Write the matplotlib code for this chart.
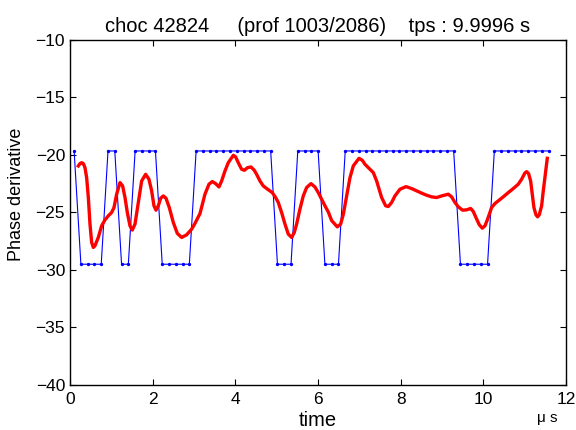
import numpy as np
import matplotlib.pyplot as plt

plt.rcParams['font.family'] = ['Liberation Sans', 'DejaVu Sans']

# blue step signal (sampled every ~0.164 us starting at 0.1 us)
t0 = 0.1
dt = 0.164
hi = -19.65
lo = -29.5
levels = [hi,
          lo, lo, lo, lo,
          hi, hi,
          lo, lo,
          hi, hi, hi, hi,
          lo, lo, lo, lo, lo,
          hi, hi, hi, hi, hi, hi, hi, hi, hi, hi, hi, hi,
          lo, lo, lo,
          hi, hi, hi, hi,
          lo, lo, lo,
          hi, hi, hi, hi, hi, hi, hi, hi, hi, hi, hi, hi, hi, hi, hi, hi, hi,
          lo, lo, lo, lo, lo,
          hi, hi, hi, hi, hi, hi, hi, hi, hi]
t_blue = t0 + dt * np.arange(len(levels))

# red phase derivative curve
t_red = [0.202, 0.242, 0.282, 0.323, 0.363, 0.403, 0.444, 0.484, 0.524, 0.565,
         0.605, 0.685, 0.766, 0.847, 0.927, 1.008, 1.065, 1.129, 1.210, 1.274,
         1.331, 1.387, 1.452, 1.508, 1.573, 1.653, 1.734, 1.831, 1.911, 1.976,
         2.032, 2.081, 2.137, 2.194, 2.258, 2.323, 2.403, 2.500, 2.597, 2.702,
         2.823, 2.944, 3.024, 3.145, 3.266, 3.363, 3.443, 3.524, 3.605, 3.669,
         3.750, 3.830, 3.952, 4.008, 4.072, 4.153, 4.218, 4.298, 4.379, 4.460,
         4.516, 4.597, 4.677, 4.782, 4.895, 4.976, 5.040, 5.121, 5.202, 5.282,
         5.363, 5.427, 5.484, 5.564, 5.645, 5.726, 5.831, 5.927, 6.008, 6.089,
         6.169, 6.250, 6.331, 6.468, 6.549, 6.614, 6.694, 6.775, 6.855, 6.993,
         7.073, 7.138, 7.259, 7.339, 7.420, 7.541, 7.638, 7.702, 7.783, 7.863,
         7.984, 8.130, 8.267, 8.388, 8.509, 8.630, 8.751, 8.872, 8.993, 9.154,
         9.234, 9.315, 9.396, 9.500, 9.597, 9.694, 9.758, 9.823, 9.904, 9.976,
         10.041, 10.105, 10.202, 10.283, 10.363, 10.484, 10.605, 10.726, 10.847,
         10.928, 11.008, 11.049, 11.097, 11.146, 11.186, 11.226, 11.275, 11.315,
         11.355, 11.412, 11.452, 11.492, 11.549]
v_red = [-20.95, -20.75, -20.67, -20.75, -21.10, -21.97, -23.70, -26.01, -27.60,
         -28.04, -27.89, -27.17, -26.16, -25.64, -25.29, -25.00, -24.57, -23.41,
         -22.40, -22.69, -23.70, -25.00, -26.16, -26.53, -26.01, -24.13, -22.26,
         -21.68, -22.11, -23.12, -24.42, -24.80, -24.42, -23.76, -23.56, -23.76,
         -24.57, -25.87, -26.82, -27.17, -26.94, -26.45, -25.95, -25.10, -23.41,
         -22.54, -22.31, -22.49, -22.78, -22.26, -21.39, -20.67, -20.03, -20.17,
         -20.67, -21.24, -21.33, -21.10, -21.04, -21.33, -21.68, -22.26, -22.69,
         -22.98, -23.27, -23.70, -24.13, -25.00, -26.01, -26.88, -27.17, -26.74,
         -26.01, -24.71, -23.56, -22.83, -22.49, -22.78, -23.27, -23.85, -24.42,
         -24.95, -25.70, -26.25, -26.01, -25.15, -23.56, -21.97, -20.95, -20.29,
         -20.46, -20.81, -21.24, -21.53, -22.26, -23.70, -24.42, -24.48, -24.13,
         -23.56, -22.98, -22.75, -22.92, -23.12, -23.32, -23.50, -23.64, -23.70,
         -23.56, -23.41, -23.64, -24.13, -24.51, -24.80, -24.77, -24.65, -24.91,
         -25.44, -26.07, -26.36, -26.16, -25.58, -24.57, -24.22, -23.99, -23.64,
         -23.27, -22.92, -22.54, -22.11, -21.56, -21.45, -21.62, -22.26, -23.41,
         -24.57, -25.20, -25.38, -25.20, -24.42, -23.12, -21.97, -20.29]

fig = plt.figure(figsize=(5.76, 4.30), dpi=100)
ax = fig.add_axes([0.1215, 0.1047, 0.861, 0.8023])

ax.plot(t_blue, levels, color='blue', lw=0.8, marker='.', ms=2.8)
ax.plot(t_red, v_red, color='red', lw=2.4, solid_joinstyle='round')

ax.set_xlim(0, 12)
ax.set_ylim(-40, -10)
ax.set_xticks([0, 2, 4, 6, 8, 10, 12])
ax.set_yticks([-40, -35, -30, -25, -20, -15, -10])
ax.tick_params(direction='in', top=True, right=True, labelsize=12.5, length=4)
ax.tick_params(axis='x', pad=5)
for s in ax.spines.values():
    s.set_linewidth(1.0)

ax.set_title('choc 42824     (prof 1003/2086)    tps : 9.9996 s',
             fontsize=14.5, pad=6)
ax.set_xlabel('time', fontsize=14.5, labelpad=3)
ax.set_ylabel('Phase derivative', fontsize=13)
ax.yaxis.set_label_coords(-0.091, 0.554)
fig.text(0.932, 0.018, '\u03bc s', fontsize=11)

fig.savefig('out.png', dpi=100)
